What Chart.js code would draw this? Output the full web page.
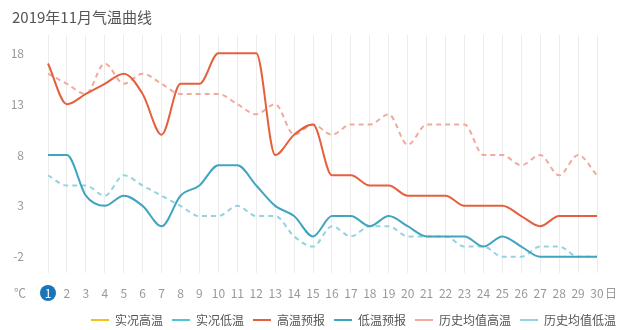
<!DOCTYPE html>
<html>
<head>
<meta charset="utf-8">
<title>2019年11月气温曲线</title>
<script src="https://cdn.jsdelivr.net/npm/chart.js@4.4.0/dist/chart.umd.min.js"></script>
<style>
  html, body { margin: 0; padding: 0; background: #fff; }
  #wrap { width: 619px; height: 330px; }
</style>
</head>
<body>
<div id="wrap"><canvas id="tempChart"></canvas></div>
<script>
// November 2019, one entry per day
const days = ['1', '2', '3', '4', '5', '6', '7', '8', '9', '10',
              '11', '12', '13', '14', '15', '16', '17', '18', '19', '20',
              '21', '22', '23', '24', '25', '26', '27', '28', '29', '30'];

// observed values (none recorded yet)
const actualHigh = [];
const actualLow = [];

// forecast highs / lows
const forecastHigh = [17, 13, 14, 15, 16, 14, 10, 15, 15, 18, 18, 18, 8, 10, 11,
                      6, 6, 5, 5, 4, 4, 4, 3, 3, 3, 2, 1, 2, 2, 2];
const forecastLow = [8, 8, 4, 3, 4, 3, 1, 4, 5, 7, 7, 5, 3, 2, 0,
                     2, 2, 1, 2, 1, 0, 0, 0, -1, 0, -1, -2, -2, -2, -2];

// historical averages
const avgHigh = [16, 15, 14, 17, 15, 16, 15, 14, 14, 14, 13, 12, 13, 10, 11,
                 10, 11, 11, 12, 9, 11, 11, 11, 8, 8, 7, 8, 6, 8, 6];
const avgLow = [6, 5, 5, 4, 6, 5, 4, 3, 2, 2, 3, 2, 2, 0, -1,
                1, 0, 1, 1, 0, 0, 0, -1, -1, -2, -2, -1, -1, -2, -2];

const yTicks = [18, 13, 8, 3, -2];

Chart.defaults.font.family = "'Noto Sans CJK SC', 'Noto Sans', sans-serif";

const LABEL_Y_PAD = 13;

// today marker under day 1, unit labels at both ends, legend nudge
const axisDecor = {
    id: 'axisDecor',
    afterLayout(chart) {
        const lg = chart.legend;
        lg.left += 49;
        lg.right += 49;
        lg.top += 6;
        lg.bottom += 6;
    },
    beforeDraw(chart) {
        const ctx = chart.ctx;
        const xs = chart.scales.x;
        const y = xs.top + LABEL_Y_PAD + 7;
        ctx.save();
        ctx.fillStyle = '#1b74b8';
        ctx.beginPath();
        ctx.arc(xs.getPixelForValue(0), y, 8, 0, Math.PI * 2);
        ctx.fill();
        ctx.fillStyle = '#999';
        ctx.font = "12px 'Noto Sans CJK SC', sans-serif";
        ctx.textBaseline = 'middle';
        ctx.textAlign = 'center';
        ctx.fillText('℃', 20, y);
        ctx.textAlign = 'left';
        ctx.fillText('日', xs.right + 8, y);
        ctx.restore();
    }
};

function line(label, data, color, dash) {
    return {
        label: label,
        data: data,
        borderColor: color,
        backgroundColor: color,
        borderWidth: 2,
        borderDash: dash || [],
        pointRadius: 0,
        pointHoverRadius: 0,
        cubicInterpolationMode: 'monotone',
        fill: false
    };
}

const ctx = document.getElementById('tempChart').getContext('2d');
const tempChart = new Chart(ctx, {
    type: 'line',
    data: {
        labels: days,
        datasets: [
            line('实况高温', actualHigh, '#f2c21c'),
            line('实况低温', actualLow, '#4fc4dc'),
            line('高温预报', forecastHigh, '#e5603d'),
            line('低温预报', forecastLow, '#41a4c1'),
            line('历史均值高温', avgHigh, '#f0aa9a', [5, 4]),
            line('历史均值低温', avgLow, '#96d3e1', [5, 4])
        ]
    },
    options: {
        responsive: true,
        maintainAspectRatio: false,
        animation: false,
        layout: { padding: { left: 12, right: 22, top: 0, bottom: 0 } },
        scales: {
            x: {
                grid: { color: '#ececec', drawTicks: false },
                border: { display: false },
                ticks: {
                    padding: LABEL_Y_PAD,
                    autoSkip: false,
                    maxRotation: 0,
                    font: { size: 12 },
                    color: c => c.index === 0 ? '#fff' : '#999'
                },
                afterFit: s => { s.height = 26; }
            },
            y: {
                min: -3.6,
                max: 19.8,
                grid: { display: false, drawTicks: false },
                border: { display: false },
                ticks: { padding: 24, color: '#999', font: { size: 12 } },
                afterBuildTicks: s => { s.ticks = yTicks.map(v => ({ value: v })); },
                afterFit: s => { s.width = 36; }
            }
        },
        plugins: {
            title: {
                display: true,
                text: '2019年11月气温曲线',
                align: 'start',
                color: '#555',
                font: { size: 15, weight: 'normal' },
                padding: { top: 8, bottom: 9 }
            },
            legend: {
                position: 'bottom',
                labels: {
                    usePointStyle: true,
                    pointStyle: 'line',
                    pointStyleWidth: 18,
                    padding: 9,
                    color: '#555',
                    font: { size: 12 }
                }
            },
            tooltip: { enabled: false }
        }
    },
    plugins: [axisDecor]
});
</script>
</body>
</html>
